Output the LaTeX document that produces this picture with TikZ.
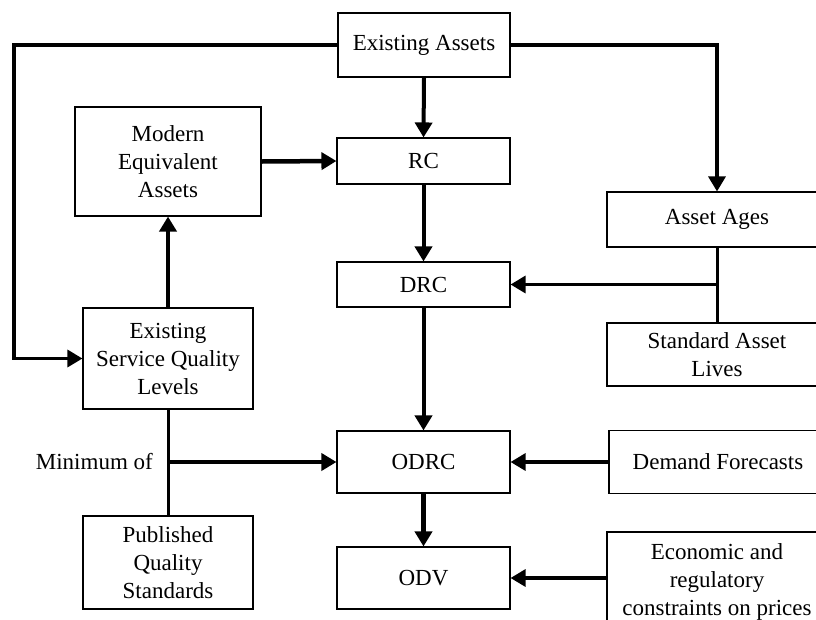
\documentclass[tikz,border=0pt]{standalone}
\usepackage{fontspec}
\setmainfont{Liberation Serif}
\usetikzlibrary{arrows.meta}
\begin{document}
\begin{tikzpicture}[x=1pt,y=-1pt,
  box/.style={draw, line width=1.1pt, rectangle, inner sep=0pt, align=center,
    font=\fontsize{23}{28}\selectfont},
  link/.style={line width=3pt},
  flow/.style={line width=3.2pt, -{Triangle[length=15pt 0 0,width=17pt 0 0]}},
  heavy/.style={line width=4.5pt, -{Triangle[length=15pt 0 0,width=17pt 0 0]}}]
\useasboundingbox (0,0) rectangle (816,619);

% boxes
\node[box, minimum width=172, minimum height=64] (ea)   at (424,45)    {Existing Assets};
\node[box, minimum width=186, minimum height=109] (mea) at (168,161.5) {Modern\\Equivalent\\Assets};
\node[box, minimum width=173, minimum height=46] (rc)   at (423.5,161) {RC};
\node[box, minimum width=173, minimum height=45] (drc)  at (423.5,284.5) {DRC};
\node[box, minimum width=220, minimum height=55] (aa)   at (717,219.5) {Asset Ages};
\node[box, minimum width=220, minimum height=63] (sal)  at (717,354.5) {Standard Asset\\Lives};
\node[box, minimum width=170, minimum height=101] (esql) at (168,358.5) {Existing\\Service Quality\\Levels};
\node[box, minimum width=173, minimum height=62] (odrc) at (423.5,462) {ODRC};
\node[box, minimum width=218, minimum height=63] (dem)  at (718,462) {Demand Forecasts};
\node[box, minimum width=170, minimum height=93] (pqs)  at (168,562.5) {Published\\Quality\\Standards};
\node[box, minimum width=173, minimum height=62] (odv)  at (423.5,578) {ODV};
\node[box, minimum width=220, minimum height=100] (eco) at (717,582) {Economic and\\regulatory\\constraints on prices};

% junctions and the free corner of the left loop
\coordinate (loop) at (14,200);
\coordinate (agej) at (717,284.5);
\coordinate (minj) at (168,462);
\node[anchor=east, inner sep=0pt, font=\fontsize{23}{28}\selectfont] (minlbl) at (153,462) {Minimum of};

% connectors
\draw[flow] (ea.west) -| (loop) |- (esql.west);
\draw[flow] (ea.east) -| (aa.north);
\draw[flow, line width=4pt] (ea.south) -- (rc.north);
\draw[heavy] (mea.east) -- (rc.west);
\draw[flow, line width=4pt] (rc.south) -- (drc.north);
\draw[link] (aa.south) -- (sal.north);
\draw[flow] (agej) -- (drc.east);
\draw[flow, line width=4pt] (drc.south) -- (odrc.north);
\draw[heavy] (esql.north) -- (mea.south);
\draw[link] (esql.south) -- (pqs.north);
\draw[flow, line width=3.5pt] (minj) -- (odrc.west);
\draw[flow] (dem.west) -- (odrc.east);
\draw[heavy] (odrc.south) -- (odv.north);
\draw[flow] (eco.west |- odv.east) -- (odv.east);
\end{tikzpicture}
\end{document}
